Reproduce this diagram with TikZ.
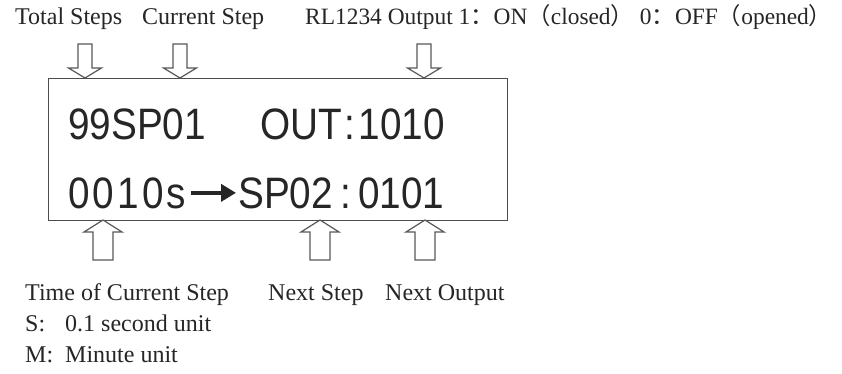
\documentclass[tikz,border=0pt]{standalone}
\usepackage{fontspec}
\setmainfont{Liberation Serif}
\newfontfamily\lcdfont[FakeStretch=0.88]{Liberation Sans}
\newfontfamily\lcdwide[FakeStretch=0.88,LetterSpace=7]{Liberation Sans}
\newfontfamily\cjkfont{Noto Sans CJK SC}
\usetikzlibrary{arrows.meta}
\tikzset{
  lbl/.style={anchor=base west, inner sep=0pt, font=\fontsize{24}{24}\selectfont, text=black!85},
  lcd/.style={anchor=base west, inner sep=0pt, font=\lcdfont\fontsize{44}{44}\selectfont, text=black!85},
  blk/.style={draw=black!65, line width=1.2pt, fill=white, line join=miter},
  screen/.style={draw=black!70, line width=1.4pt, minimum width=459pt, minimum height=142pt, anchor=north west, inner sep=0pt},
  lcdarrow/.style={draw=black!85, line width=4pt, -{Triangle[length=15pt,width=17pt]}},
}
\newcommand\downblk[1]{%
  \draw[blk] (#1-7,44) -- (#1+7,44) -- (#1+7,68) -- (#1+16.5,68) -- (#1,78) -- (#1-16.5,68) -- (#1-7,68) -- cycle;}
\newcommand\upblk[1]{%
  \draw[blk] (#1-10,260) -- (#1+10,260) -- (#1+10,232) -- (#1+19,232) -- (#1,220) -- (#1-19,232) -- (#1-10,232) -- cycle;}
\begin{document}
\begin{tikzpicture}[x=1pt,y=-1pt]
  \fill[white] (0,0) rectangle (842,374);
  \useasboundingbox (0,0) rectangle (842,374);
  % display
  \node[screen] (lcd) at (48,78) {};
  % top labels
  \node[lbl] (ltot) at (15,25) {Total Steps};
  \node[lbl] (lcur) at (142,25) {Current Step};
  \node[lbl, font=\fontsize{23.4}{24}\selectfont] (lrl) at (305,25) {RL1234 Output 1{\cjkfont ：}ON{\cjkfont （}closed{\cjkfont ）} 0{\cjkfont ：}OFF{\cjkfont （}opened{\cjkfont ）}};
  % top block arrows
  \downblk{85}
  \downblk{180}
  \downblk{424}
  % display text
  \node[lcd] (tot) at (68,140) {99SP01};
  \node[lcd] (out) at (260,140) {OUT\kern3pt:\kern3pt1010};
  \node[lcd, font=\lcdwide\fontsize{44}{44}\selectfont] (tim) at (68,208) {0010s};
  \node[lcd] (nxt) at (238,208) {SP02\,:\,0101};
  \draw[lcdarrow] ([xshift=5pt]tim.east) -- ([xshift=-2pt]nxt.west);
  % bottom block arrows
  \upblk{103}
  \upblk{320}
  \upblk{425}
  % bottom labels
  \node[lbl] (ltime) at (25,300) {Time of Current Step};
  \node[lbl] (lnext) at (268,300) {Next Step};
  \node[lbl] (lnout) at (385,300) {Next Output};
  \node[lbl] (ls) at (25,331) {S:};
  \node[lbl] (lsv) at (65,331) {0.1 second unit};
  \node[lbl] (lm) at (25,362) {M:};
  \node[lbl] (lmv) at (65,362) {Minute unit};
\end{tikzpicture}
\end{document}
